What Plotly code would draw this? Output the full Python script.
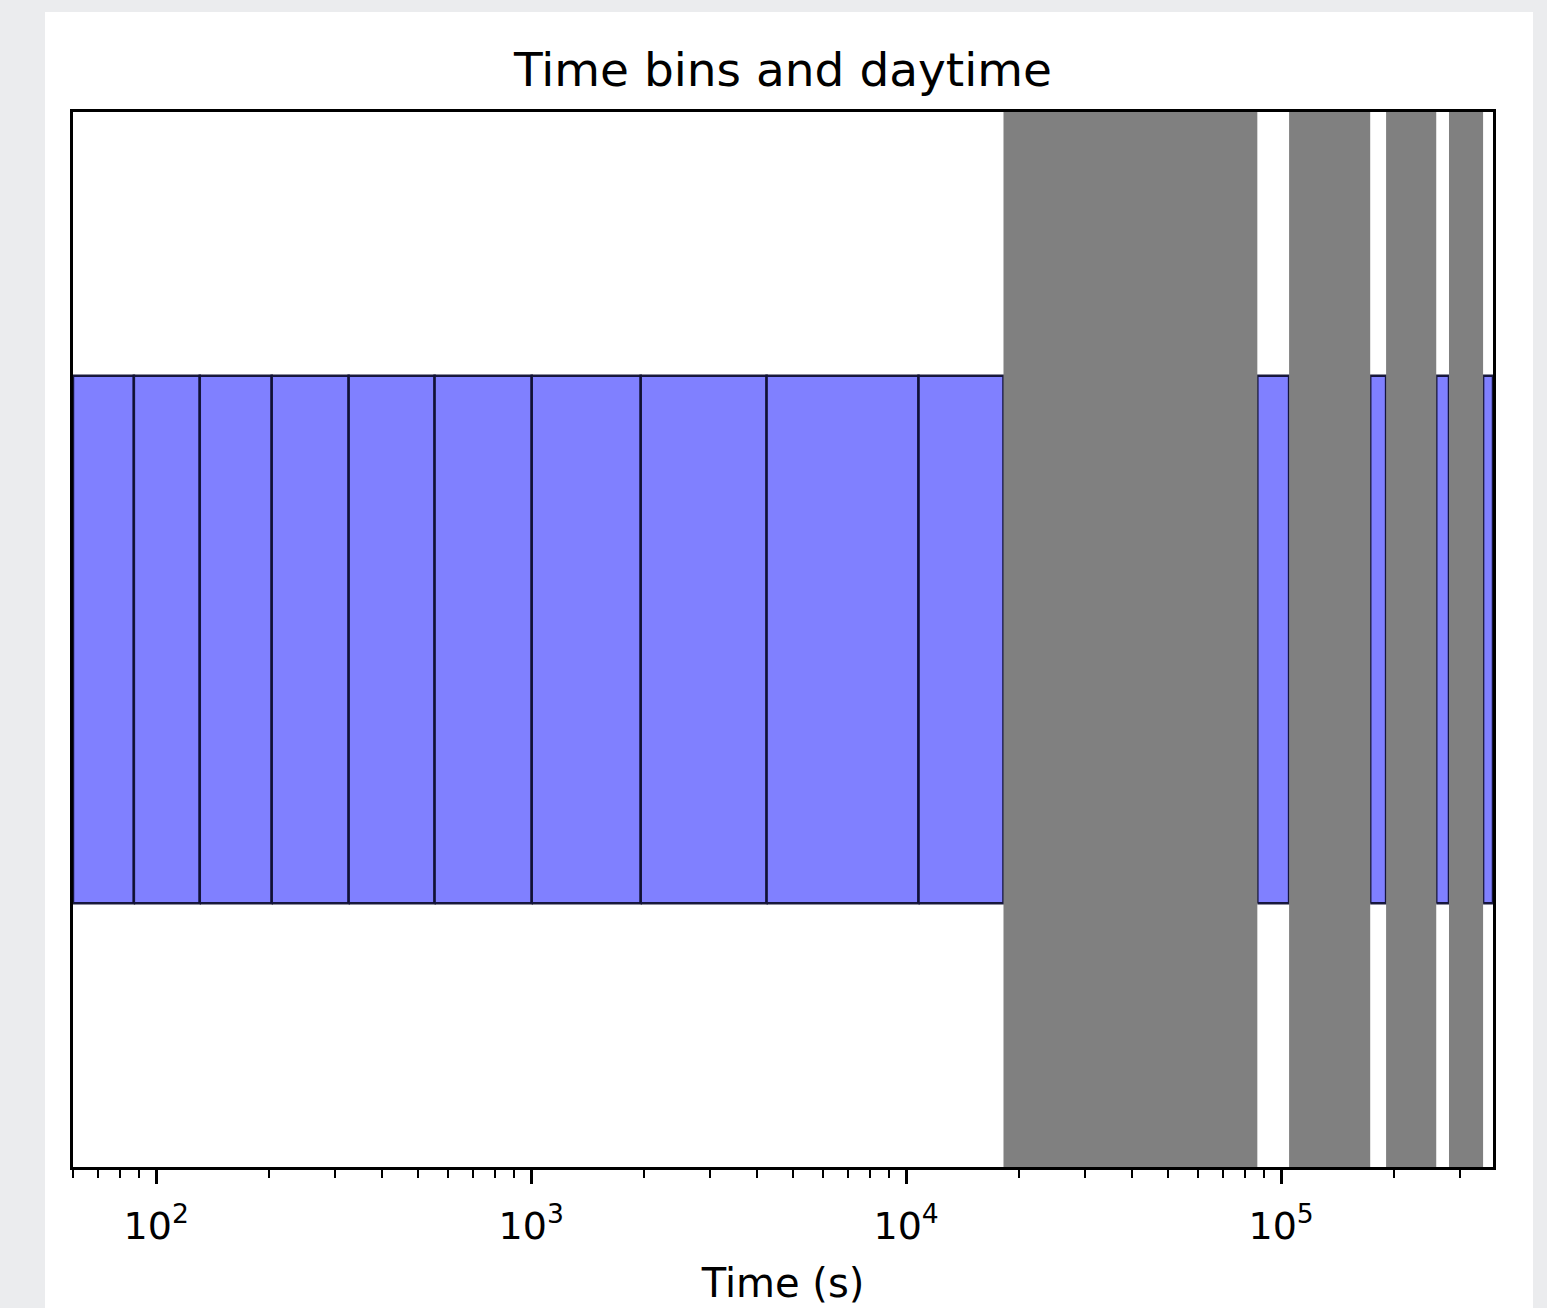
import plotly.graph_objects as go

# Data
bin_starts = [60, 87.2, 130.7, 203.3, 326.1, 552.7, 1003.6, 1960, 4245, 10790,
              86400, 172800, 259200, 345600]
bin_ends = [87.2, 130.7, 203.3, 326.1, 552.7, 1003.6, 1960, 4245, 10790, 18180,
            105000, 190500, 280300, 367300]
day_starts = [18180, 105000, 190500, 280300]
day_ends = [86400, 172800, 259200, 345600]
bin_low, bin_high = 0.25, 0.75

major_ticks = [100, 1000, 10000, 100000]
major_text = ["10<sup>2</sup>", "10<sup>3</sup>", "10<sup>4</sup>", "10<sup>5</sup>"]
minor_ticks = [m * 10 ** e for e in range(1, 6) for m in range(2, 10)
               if 60 <= m * 10 ** e <= 367300]

W, H = 1547, 1308
L, R, T, B = 73, 54, 112, 141

fig = go.Figure()

for a, b in zip(bin_starts, bin_ends):
    fig.add_trace(go.Scatter(
        x=[a, b, b, a, a], y=[bin_low, bin_low, bin_high, bin_high, bin_low],
        mode="lines", fill="toself", fillcolor="#8080ff",
        line=dict(color="rgba(15,15,50,0.95)", width=2.5),
        hoverinfo="skip", showlegend=False))

for a, b in zip(day_starts, day_ends):
    fig.add_trace(go.Scatter(
        x=[a, b, b, a, a], y=[0, 0, 1, 1, 0],
        mode="lines", fill="toself", fillcolor="#808080",
        line=dict(width=0), hoverinfo="skip", showlegend=False))

pw, ph = W - L - R, H - T - B
fig.add_shape(type="rect", xref="paper", yref="paper", layer="below",
              x0=(45 - L) / pw, x1=(1533 - L) / pw,
              y0=-B / ph - 0.01, y1=(H - B - 12) / ph,
              fillcolor="white", line=dict(width=0))

fig.update_layout(
    width=W, height=H,
    margin=dict(l=L, r=R, t=T, b=B, autoexpand=False),
    paper_bgcolor="#ebecee", plot_bgcolor="white",
    font=dict(family="DejaVu Sans", color="black"),
    title=dict(text="Time bins and daytime", x=(L + pw / 2) / W, xanchor="center",
               y=1 - 70 / H, yanchor="middle", yref="container",
               font=dict(size=47, color="black")),
    xaxis=dict(type="log", range=[1.7782, 5.5650], autorange=False,
               tickmode="array", tickvals=major_ticks, ticktext=major_text,
               ticks="outside", ticklen=14, tickwidth=2.5, tickcolor="black",
               tickfont=dict(size=38, color="black"), ticklabelstandoff=10,
               minor=dict(tickmode="array", tickvals=minor_ticks, ticks="outside",
                          ticklen=8, tickwidth=2, tickcolor="black"),
               showgrid=False, zeroline=False,
               showline=True, linecolor="black", linewidth=2.5, mirror=True,
               title=dict(text="Time (s)", font=dict(size=40, color="black"),
                          standoff=22)),
    yaxis=dict(range=[0, 1], autorange=False, showticklabels=False, ticks="",
               showgrid=False, zeroline=False,
               showline=True, linecolor="black", linewidth=2.5, mirror=True),
)

fig.write_html("out.html")
